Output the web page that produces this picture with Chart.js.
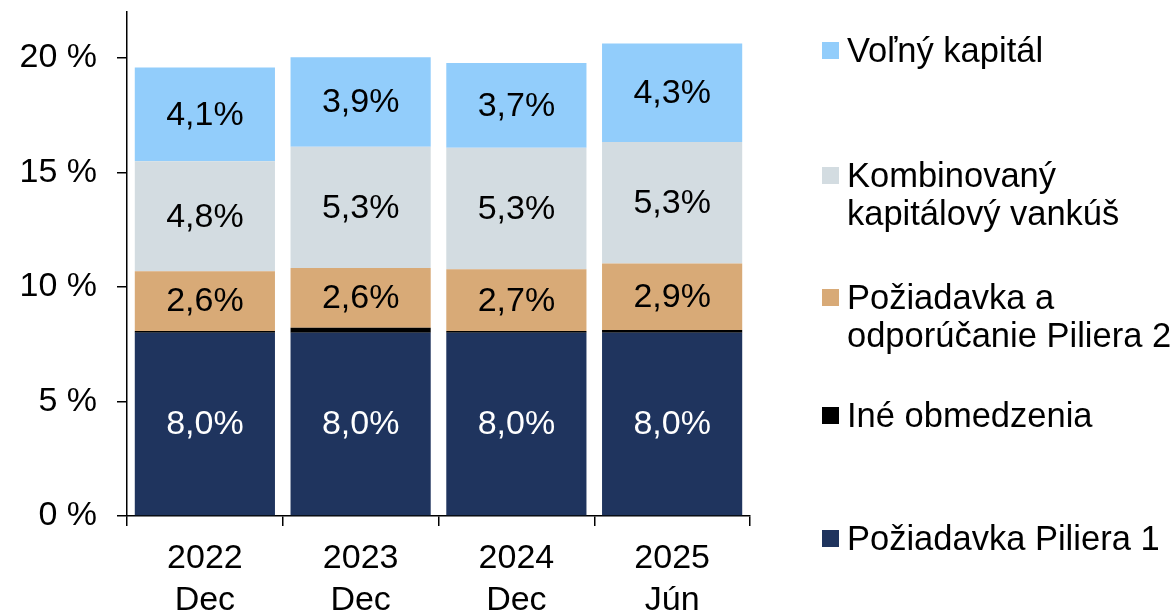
<!DOCTYPE html>
<html><head><meta charset="utf-8">
<script src="https://cdn.jsdelivr.net/npm/chart.js@4"></script>
<style>
html,body{margin:0;padding:0;background:#fff;}
#wrap{position:relative;width:1176px;height:612px;}
canvas{position:absolute;left:0;top:0;}
.leg{position:absolute;left:822px;font-family:"Liberation Sans",Arial,sans-serif;font-size:34.5px;line-height:38px;color:#000;}
.leg .sw{position:absolute;left:0;top:11px;width:17px;height:17px;}
.leg .tx{position:absolute;left:25px;white-space:nowrap;}
</style></head>
<body><div id="wrap"><canvas id="c" width="1176" height="612"></canvas></div>
<script>
const categories = [["2022","Dec"],["2023","Dec"],["2024","Dec"],["2025","Jún"]];
const pilier1 = [8.0, 8.0, 8.0, 8.0];
const ineObmedzenia = [0.08, 0.22, 0.07, 0.12];
const pilier2 = [2.6, 2.6, 2.7, 2.9];
const kombinovany = [4.8, 5.3, 5.3, 5.3];
const volny = [4.1, 3.9, 3.7, 4.3];
const yTicks = [0, 5, 10, 15, 20];
const seriesNames = ["Požiadavka Piliera 1","Iné obmedzenia",["Požiadavka a","odporúčanie Piliera 2"],["Kombinovaný","kapitálový vankúš"],"Voľný kapitál"];
const colors = ["#1F345E","#000000","#D8AA77","#D3DCE1","#92CDFB"];
const labelColors = ["#FFFFFF", null, "#000000", "#000000", "#000000"];

const FONT = "'Liberation Sans', Arial, sans-serif";
const seriesData = [pilier1, ineObmedzenia, pilier2, kombinovany, volny];

const labelPlugin = {
  id: 'barLabels',
  afterDatasetsDraw(chart) {
    const ctx = chart.ctx;
    ctx.save();
    ctx.font = "34px " + FONT;
    ctx.textAlign = 'center';
    ctx.textBaseline = 'middle';
    chart.data.datasets.forEach((ds, i) => {
      if (!labelColors[i]) return;
      const meta = chart.getDatasetMeta(i);
      meta.data.forEach((el, j) => {
        const v = ds.data[j];
        const y = (el.y + el.base) / 2;
        ctx.fillStyle = labelColors[i];
        ctx.fillText(v.toFixed(1).replace('.', ',') + '%', el.x, y + 1);
      });
    });
    ctx.restore();
  }
};

new Chart(document.getElementById('c'), {
  type: 'bar',
  data: {
    labels: categories,
    datasets: seriesData.map((d, i) => ({
      label: Array.isArray(seriesNames[i]) ? seriesNames[i].join(' ') : seriesNames[i],
      data: d,
      backgroundColor: colors[i],
      borderWidth: 0,
      categoryPercentage: 1.0,
      barPercentage: 0.9
    }))
  },
  options: {
    responsive: false,
    animation: false,
    devicePixelRatio: 1,
    layout: { padding: { top: 12, right: 426, left: 0, bottom: 0 } },
    plugins: { legend: { display: false }, tooltip: { enabled: false } },
    scales: {
      x: {
        stacked: true,
        offset: true,
        grid: { display: true, drawOnChartArea: false, offset: true, tickLength: 10, color: '#000', lineWidth: 1.5 },
        border: { color: '#000', width: 1.5 },
        ticks: { color: '#000', font: { family: FONT, size: 34, lineHeight: 1.22 }, padding: 12, maxRotation: 0 },
        afterFit(s) { s.height = 96; s.paddingLeft = 0; s.paddingRight = 0; }
      },
      y: {
        stacked: true,
        min: 0, max: 22,
        afterBuildTicks(s) { s.ticks = yTicks.map(v => ({ value: v })); },
        grid: { display: true, drawOnChartArea: false, tickLength: 10, color: '#000', lineWidth: 1.5 },
        border: { color: '#000', width: 1.5 },
        ticks: { color: '#000', font: { family: FONT, size: 34 }, padding: 20, callback: v => v + ' %' },
        afterFit(s) { s.width = 127; s.paddingTop = 0; s.paddingBottom = 0; }
      }
    }
  },
  plugins: [labelPlugin]
});

// HTML legend (top to bottom: reverse order of stacking)
const legendTops = [31, 156, 278, 396, 519];
const wrap = document.getElementById('wrap');
[4,3,2,1,0].forEach((idx, k) => {
  const d = document.createElement('div');
  d.className = 'leg';
  d.style.top = legendTops[k] + 'px';
  const sw = document.createElement('div'); sw.className = 'sw'; sw.style.background = colors[idx];
  const tx = document.createElement('div'); tx.className = 'tx';
  const nm = seriesNames[idx];
  tx.innerHTML = (Array.isArray(nm) ? nm : [nm]).join('<br>');
  d.appendChild(sw); d.appendChild(tx);
  wrap.appendChild(d);
});
</script></body></html>
